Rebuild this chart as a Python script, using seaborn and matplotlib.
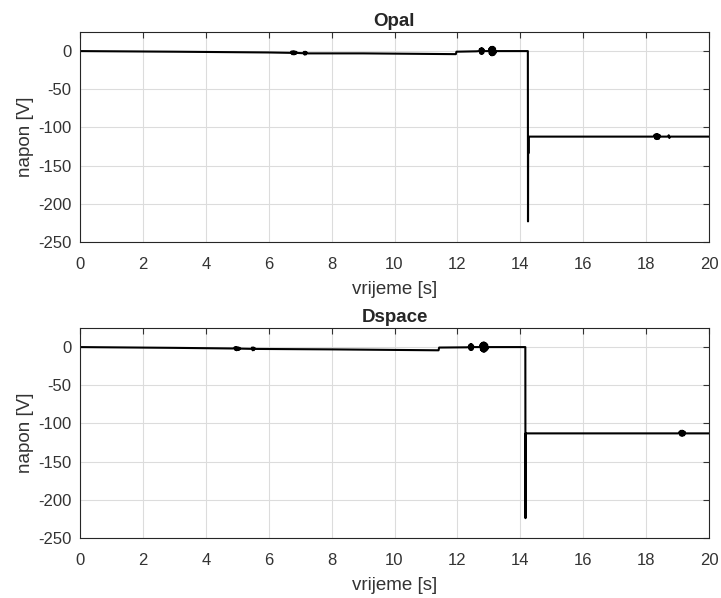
import numpy as np
import pandas as pd
import matplotlib
matplotlib.use('Agg')
import matplotlib.pyplot as plt
import seaborn as sns

# Opal trace: time [s] and voltage [V]
opal_t = [0.0, 3.0, 6.0,
          6.7, 6.72, 6.74, 6.76, 6.78, 6.8, 6.82, 6.84, 6.86, 6.88, 6.9,
          7.1, 7.12, 7.14, 7.16, 7.18, 7.2, 7.22,
          9.0, 11.95, 11.97, 12.6,
          12.7, 12.715, 12.73, 12.745, 12.76, 12.775, 12.79, 12.805, 12.82, 12.835, 12.85,
          13.0, 13.015, 13.03, 13.045, 13.06, 13.075, 13.09, 13.105, 13.12, 13.135,
          13.15, 13.165, 13.18, 13.195, 13.21, 13.225,
          14.24, 14.245, 14.25, 14.255, 14.26, 14.3,
          18.25, 18.27, 18.29, 18.31, 18.33, 18.35, 18.37, 18.39, 18.41, 18.43, 18.45,
          18.7, 18.72, 18.74, 18.76, 20.0]
opal_v = [0.0, -0.8, -1.8,
          -2.3, -0.6, -4.0, -0.3, -4.3, -0.2, -4.2, -0.6, -3.8, -1.0, -2.4,
          -2.8, -1.0, -4.6, -0.8, -4.4, -1.4, -3.0,
          -3.0, -4.0, -0.8, -0.3,
          0.0, 2.8, -3.0, 3.5, -3.6, 3.8, -3.5, 3.2, -2.8, 2.0, 0.0,
          0.0, 3.2, -3.6, 4.6, -4.8, 5.4, -5.5, 5.6, -5.4, 5.5,
          -5.2, 4.8, -4.2, 3.6, -2.6, 0.0,
          0.0, -223.0, -112.0, -134.0, -112.0, -112.0,
          -112.0, -109.5, -114.5, -108.8, -115.2, -108.6, -115.0, -109.2, -114.6, -110.0, -112.0,
          -112.0, -110.2, -113.8, -112.0, -112.0]

# Dspace trace
dspace_t = [0.0, 3.0, 4.8,
            4.9, 4.92, 4.94, 4.96, 4.98, 5.0, 5.02, 5.04, 5.06, 5.08, 5.1,
            5.45, 5.47, 5.49, 5.51, 5.53, 5.55, 5.57,
            8.0, 11.4, 11.42, 12.3,
            12.36, 12.375, 12.39, 12.405, 12.42, 12.435, 12.45, 12.465, 12.48, 12.495, 12.51,
            12.72, 12.735, 12.75, 12.765, 12.78, 12.795, 12.81, 12.825, 12.84, 12.855,
            12.87, 12.885, 12.9, 12.915, 12.93, 12.945, 12.96, 12.975,
            14.16, 14.165, 14.17, 14.175, 14.18, 14.22,
            19.05, 19.07, 19.09, 19.11, 19.13, 19.15, 19.17, 19.19, 19.21, 19.23, 19.25, 20.0]
dspace_v = [0.0, -1.0, -1.8,
            -1.8, -0.2, -3.8, 0.0, -4.2, -0.2, -3.9, -0.5, -3.6, -1.0, -2.0,
            -2.3, -0.6, -4.2, -0.5, -4.0, -1.0, -2.4,
            -3.0, -4.2, -0.6, -0.3,
            0.0, 2.6, -3.0, 3.6, -3.8, 4.0, -3.8, 3.4, -3.0, 2.2, 0.0,
            0.0, 3.2, -3.8, 4.6, -5.0, 5.6, -5.8, 6.0, -6.0, 6.0,
            -5.8, 5.4, -5.0, 4.6, -4.0, 3.2, -2.4, 0.0,
            0.0, -224.0, -113.0, -128.0, -113.0, -113.0,
            -113.0, -110.5, -115.5, -109.6, -116.2, -109.5, -116.0, -110.0, -115.4, -111.0, -113.0, -113.0]

titles = ['Opal', 'Dspace']
xticks = [0, 2, 4, 6, 8, 10, 12, 14, 16, 18, 20]
yticks = [-250, -200, -150, -100, -50, 0]

sns.set_style('whitegrid')
plt.rcParams['font.family'] = ['Liberation Sans', 'DejaVu Sans']
plt.rcParams['axes.unicode_minus'] = False

fig = plt.figure(figsize=(7.21, 5.98), dpi=100)
ax1 = fig.add_axes([80 / 721, 1 - 242 / 598, 629 / 721, 210 / 598])
ax2 = fig.add_axes([80 / 721, 1 - 538 / 598, 629 / 721, 210 / 598])

traces = [(opal_t, opal_v), (dspace_t, dspace_v)]
for ax, (t, v), title in zip([ax1, ax2], traces, titles):
    df = pd.DataFrame({'t': t, 'v': v})
    sns.lineplot(data=df, x='t', y='v', ax=ax, color='black', linewidth=1.5,
                 estimator=None, sort=False)
    ax.set_xlim(0, 20)
    ax.set_ylim(-250, 25)
    ax.set_xticks(xticks)
    ax.set_yticks(yticks)
    ax.grid(True, color='#dcdcdc', linewidth=0.8)
    for s in ax.spines.values():
        s.set_color('#262626')
        s.set_linewidth(0.8)
        s.set_visible(True)
    ax.tick_params(direction='in', top=True, right=True, length=4, width=0.8,
                   colors='#333333', labelsize=12)
    ax.tick_params(axis='x', pad=11)
    ax.tick_params(axis='y', pad=6)
    ax.set_xlabel('vrijeme [s]', fontsize=13.5, color='#333333', labelpad=6)
    ax.set_ylabel('napon [V]', fontsize=13.5, color='#333333', labelpad=3)
    ax.set_title(title, fontsize=13.5, fontweight='bold', pad=4)

fig.savefig('out.png', dpi=100)
